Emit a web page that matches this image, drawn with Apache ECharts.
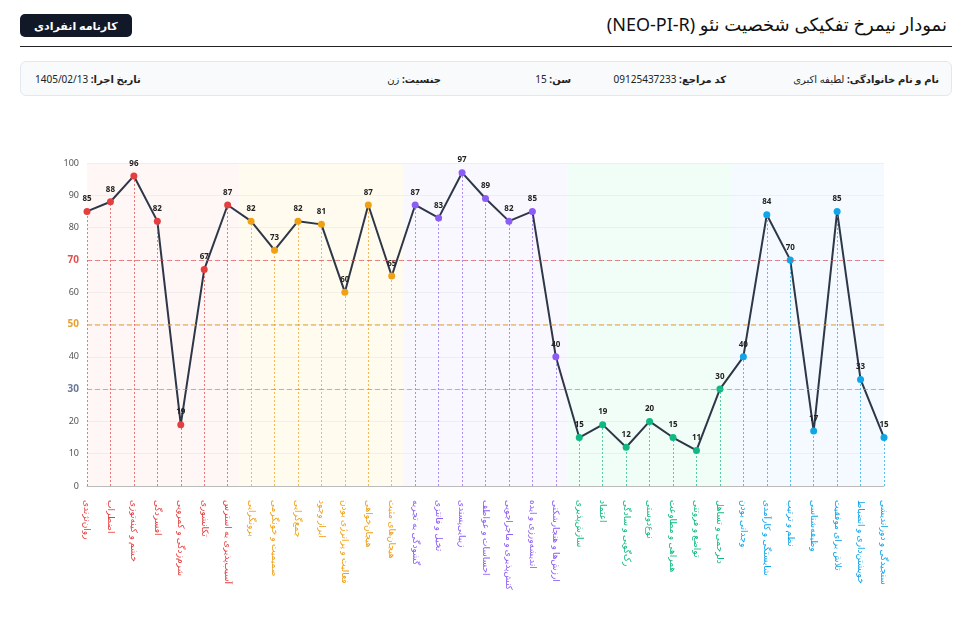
<!DOCTYPE html>
<html><head><meta charset="utf-8">
<script src="https://cdn.jsdelivr.net/npm/echarts@6/dist/echarts.min.js"></script>
<style>
body{margin:0;background:#fff;font-family:"Noto Sans","DejaVu Sans",sans-serif;width:977px;height:633px;overflow:hidden}
.head{position:absolute;left:20px;right:25px;top:8px;height:38px;border-bottom:1.5px solid #222;direction:rtl}
.head h1{margin:0;font-size:18px;font-weight:normal;position:absolute;right:5px;top:4px;color:#111}
.btn{position:absolute;left:0;top:6px;background:#111827;color:#fff;font-size:11px;font-weight:bold;padding:4px 14px;border-radius:5px}
.info{position:absolute;left:20px;right:25px;top:61px;height:33px;border:1px solid #e2e8f0;border-radius:6px;background:#f8fafc;direction:rtl;font-size:10px;color:#222}
.info span{position:absolute;top:10px}
.info b{font-weight:bold}
#c{position:absolute;left:0;top:100px;width:977px;height:533px}
</style></head><body>
<div class="head"><h1>نمودار نیمرخ تفکیکی شخصیت نئو (NEO-PI-R)</h1><div class="btn">کارنامه انفرادی</div></div>
<div class="info">
<span style="right:12px"><b>نام و نام خانوادگی:</b> لطیفه اکبری</span>
<span style="right:225px"><b>کد مراجع:</b> 09125437233</span>
<span style="right:380px"><b>سن:</b> 15</span>
<span style="right:510px"><b>جنسیت:</b> زن</span>
<span style="left:14px"><b>تاریخ اجرا:</b> 1405/02/13</span>
</div>
<div id="c"></div>
<script>
// زیرمقیاس‌ها
var categories = ['روان‌نژندی','اضطراب','خشم و کینه‌توزی','افسردگی','شرم‌زدگی و کمرویی','تکانشوری','آسیب‌پذیری به استرس',
 'برونگرایی','صمیمیت و خونگرمی','جمع‌گرایی','ابراز وجود','فعالیت و پرانرژی بودن','هیجان‌خواهی','هیجان‌های مثبت',
 'گشودگی به تجربه','تخیل و فانتزی','زیبایی‌پسندی','احساسات و عواطف','کنش‌پذیری و ماجراجویی','اندیشه‌ورزی و ایده','ارزش‌ها و هنجارشکنی',
 'سازش‌پذیری','اعتماد','رک‌گویی و سادگی','نوع‌دوستی','همراهی و مطاوعت','تواضع و فروتنی','دلرحمی و تساهل',
 'وجدانی بودن','شایستگی و کارآمدی','نظم و ترتیب','وظیفه‌شناسی','تلاش برای موفقیت','خویشتن‌داری و انضباط','سنجیدگی و دوراندیشی'];
var scores = [85,88,96,82,19,67,87, 82,73,82,81,60,87,65, 87,83,97,89,82,85,40, 15,19,12,20,15,11,30, 40,84,70,17,85,33,15];
var groupColors = ['#e53e3e','#f0a015','#8b5cf6','#10b981','#0ea5e9'];
var bandColors = ['rgba(254,226,226,0.3)','rgba(254,243,199,0.3)','rgba(237,233,254,0.3)','rgba(209,250,229,0.3)','rgba(224,242,254,0.35)'];
var groupSize = 7;
var refLines = [ {v:70,c:'#e05252',w:1}, {v:50,c:'#e8a030',w:1.5}, {v:30,c:'#8a9ab8',w:1} ];

var colorOf = function(i){ return groupColors[Math.floor(i/groupSize)]; };
var pts = scores.map(function(v,i){ return {value:[i,v], itemStyle:{color:colorOf(i)}}; });
var bands = groupColors.map(function(c,g){
  return [{xAxis: g==0 ? 0 : g*groupSize-0.5, itemStyle:{color:bandColors[g]}}, {xAxis: g==4 ? 34 : (g+1)*groupSize-0.5}];
});
var drops = scores.map(function(v,i){
  return [{coord:[i,0], lineStyle:{color:colorOf(i)}}, {coord:[i,v]}];
});
var refs = refLines.map(function(r){ return {yAxis:r.v, lineStyle:{color:r.c,width:r.w,type:[5,3]}}; });

var chart = echarts.init(document.getElementById('c'));
chart.setOption({
  animation:false,
  textStyle:{fontFamily:'"Noto Sans","DejaVu Sans",sans-serif'},
  grid:{left:87,right:93,top:63,bottom:147},
  xAxis:{type:'value',min:0,max:34,interval:1,
    axisLine:{lineStyle:{color:'#bbb'}},axisTick:{show:false},splitLine:{show:false},
    axisLabel:{rotate:-90,fontSize:9,margin:14,formatter:function(v){return categories[v]||'';},
      color:function(v){return colorOf(v);}}},
  yAxis:{type:'value',min:0,max:100,interval:10,
    axisLine:{show:false},axisTick:{show:false},splitLine:{lineStyle:{color:'#eef0f3'}},
    axisLabel:{fontSize:9,color:'#555',formatter:function(v){
      return v==70?'{r|70}':v==50?'{o|50}':v==30?'{b|30}':v;},
      rich:{r:{color:'#e05252',fontWeight:'bold',fontSize:10},o:{color:'#e8a030',fontWeight:'bold',fontSize:10},b:{color:'#6b7a99',fontWeight:'bold',fontSize:10}}}},
  series:[{
    type:'line',data:pts,symbol:'circle',symbolSize:7,
    lineStyle:{color:'#2d3748',width:2},
    label:{show:true,position:'top',fontSize:8,fontWeight:'bold',color:'#222',formatter:function(p){return p.value[1];}},
    markArea:{silent:true,data:bands},
    markLine:{silent:true,symbol:'none',label:{show:false},lineStyle:{type:[2,2],width:1,opacity:0.7},data:drops.concat(refs)}
  }]
});
</script>
</body></html>
